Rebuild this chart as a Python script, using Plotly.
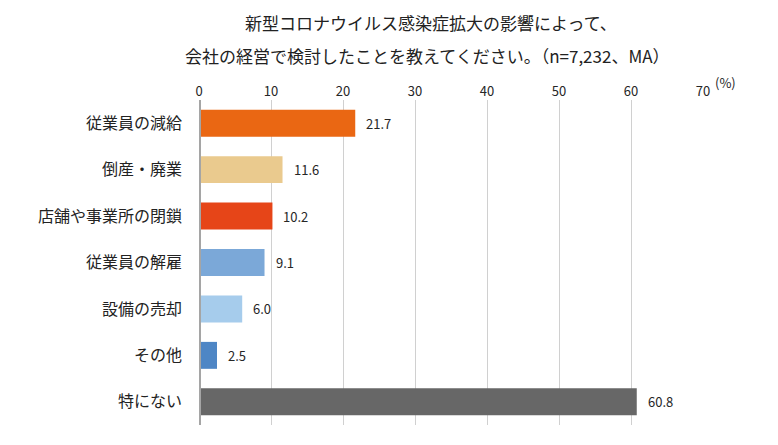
import plotly.graph_objects as go

categories = ["従業員の減給", "倒産・廃業", "店舗や事業所の閉鎖", "従業員の解雇", "設備の売却", "その他", "特にない"]
values = [21.7, 11.6, 10.2, 9.1, 6.0, 2.5, 60.8]
colors = ["#EA6713", "#EACA8E", "#E64518", "#7BA8D8", "#A6CCEC", "#4E86C5", "#676767"]
tick_vals = [0, 10, 20, 30, 40, 50, 60, 70]
title_lines = ["新型コロナウイルス感染症拡大の影響によって、", "会社の経営で検討したことを教えてください。（n=7,232、MA）"]

FONT = "Noto Sans CJK JP, sans-serif"
L, R, T, B = 199, 703, 100, 425
W, H = R - L, B - T

def px_x(x):
    return (x - L) / W

def px_y(y):
    return (B - y) / H

fig = go.Figure()
fig.add_trace(go.Bar(
    x=values, y=categories, orientation="h",
    marker=dict(color=colors, line=dict(width=0)),
    width=0.58, hoverinfo="skip",
))

annotations = []
for c, v in zip(categories, values):
    annotations.append(dict(x=v, y=c, xref="x", yref="y", text=f"{v:.1f}", showarrow=False,
                            xanchor="left", xshift=9, font=dict(size=13, color="#262626", family=FONT)))
annotations.append(dict(x=1.0, y=px_y(82), xref="paper", yref="paper", text="(%)", showarrow=False,
                        xanchor="left", yanchor="middle", xshift=10,
                        font=dict(size=13, color="#262626", family=FONT)))
annotations.append(dict(x=px_x(431), y=px_y(22), xref="paper", yref="paper", text=title_lines[0],
                        showarrow=False, xanchor="center", yanchor="middle",
                        font=dict(size=17, color="#222222", family=FONT)))
annotations.append(dict(x=px_x(427), y=px_y(55), xref="paper", yref="paper", text=title_lines[1],
                        showarrow=False, xanchor="center", yanchor="middle",
                        font=dict(size=17, color="#222222", family=FONT)))

fig.update_layout(
    width=778, height=445,
    margin=dict(l=L, r=778 - R, t=T, b=445 - B, autoexpand=False),
    paper_bgcolor="white", plot_bgcolor="white",
    showlegend=False,
    annotations=annotations,
    xaxis=dict(range=[0, 70], side="top", tickvals=tick_vals, showgrid=True,
               gridcolor="#D0D0D0", gridwidth=1, zeroline=False, showline=False,
               automargin=False,
               tickfont=dict(size=13, color="#262626", family=FONT), fixedrange=True),
    yaxis=dict(autorange="reversed", showgrid=False, zeroline=False,
               showline=False, ticks="", ticklabelstandoff=16, automargin=False,
               tickfont=dict(size=16, color="#222222", family=FONT), fixedrange=True),
    shapes=[dict(type="line", xref="x", yref="paper", x0=0, x1=0, y0=0, y1=1,
                 line=dict(color="#A5A5A5", width=4))],
)

fig.write_html("out.html", config={"displayModeBar": False})

with open("out.html", "r", encoding="utf-8") as f:
    html = f.read()
html = html.replace("<head>", "<head><style>html,body{margin:0;padding:0;overflow:hidden;}</style>", 1)
with open("out.html", "w", encoding="utf-8") as f:
    f.write(html)
